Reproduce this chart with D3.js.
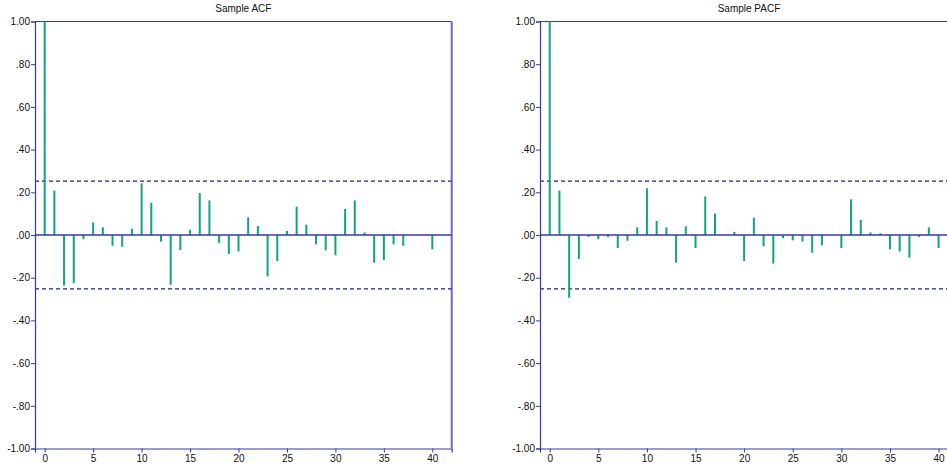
<!DOCTYPE html>
<html>
<head>
<meta charset="utf-8">
<script src="https://cdn.jsdelivr.net/npm/d3@7"></script>
<style>
	body { margin: 0; background: #fff; }
	svg { display: block; font-family: "Liberation Sans", Arial, sans-serif; }
</style>
</head>
<body>
<svg id="chart" width="947" height="467"></svg>
<script>
const lags = d3.range(0, 41)

const acfValues = [1.0, 0.208, -0.237, -0.225, -0.02, 0.059, 0.036, -0.05, -0.055, 0.03,
	0.242, 0.151, -0.031, -0.233, -0.07, 0.025, 0.197, 0.162, -0.037, -0.089,
	-0.077, 0.083, 0.042, -0.194, -0.122, 0.019, 0.133, 0.048, -0.044, -0.072,
	-0.095, 0.122, 0.162, 0.012, -0.13, -0.117, -0.044, -0.05, 0, 0,
	-0.067]

const pacfValues = [1.0, 0.208, -0.294, -0.112, -0.009, -0.02, -0.009, -0.061, -0.027, 0.036,
	0.219, 0.066, 0.036, -0.13, 0.041, -0.061, 0.18, 0.1, 0, 0.014,
	-0.122, 0.081, -0.053, -0.134, -0.014, -0.025, -0.031, -0.083, -0.048, 0,
	-0.061, 0.167, 0.07, 0.012, 0.008, -0.067, -0.077, -0.106, -0.009, 0.036,
	-0.061]

const yTicks = [1, 0.8, 0.6, 0.4, 0.2, 0, -0.2, -0.4, -0.6, -0.8, -1]
const xTicks = [0, 5, 10, 15, 20, 25, 30, 35, 40]
const confBand = 0.252

const panels = [
	{ title: 'Sample ACF', values: acfValues, left: 35, width: 416.7 },
	{ title: 'Sample PACF', values: pacfValues, left: 540, width: 418 }
]

const axisColor = '#3a3a9a'
const barColor = '#12a283'
const plotTop = 21.5, plotBottom = 448.5

const fmtY = v => {
	if (v === 1) return '1.00'
	if (v === -1) return '-1.00'
	const s = d3.format('.2f')(Math.abs(v)).replace(/^0/, '')
	return (v < 0 ? '-' : '') + s
}

const svg = d3.select('#chart')

panels.forEach(p => {
	const x = d3.scaleLinear().domain([-1, 42]).range([p.left, p.left + p.width])
	const y = d3.scaleLinear().domain([-1, 1]).range([plotBottom, plotTop])
	const g = svg.append('g')

	g.append('text')
		.attr('x', p.left + p.width / 2)
		.attr('y', 12)
		.attr('text-anchor', 'middle')
		.attr('font-size', 10)
		.attr('fill', '#111')
		.text(p.title)

	// frame
	g.append('line').attr('x1', x(-1)).attr('x2', x(42)).attr('y1', plotTop).attr('y2', plotTop)
		.attr('stroke', axisColor).attr('stroke-width', 1.2)
	g.append('line').attr('x1', x(42)).attr('x2', x(42)).attr('y1', plotTop).attr('y2', plotBottom)
		.attr('stroke', '#6a6ab8').attr('stroke-width', 2)

	// confidence bands
	;[confBand, -confBand].forEach(c => {
		g.append('line')
			.attr('x1', x(-1)).attr('x2', x(42))
			.attr('y1', y(c)).attr('y2', y(c))
			.attr('stroke', '#22227a')
			.attr('stroke-width', 1.2)
			.attr('stroke-dasharray', '4,3')
	})

	// bars
	g.selectAll('.bar')
		.data(lags)
		.enter()
		.append('line')
		.attr('class', 'bar')
		.attr('x1', d => x(d)).attr('x2', d => x(d))
		.attr('y1', y(0))
		.attr('y2', d => y(p.values[d]))
		.attr('stroke', barColor)
		.attr('stroke-width', 2)

	// zero line
	g.append('line').attr('x1', x(-1)).attr('x2', x(42)).attr('y1', y(0)).attr('y2', y(0))
		.attr('stroke', axisColor).attr('stroke-width', 1.5)

	// y axis
	const yAxis = g.append('g')
		.attr('transform', `translate(${p.left},0)`)
		.call(d3.axisLeft(y).tickValues(yTicks).tickFormat(fmtY).tickSize(4).tickPadding(1))
	yAxis.select('.domain').attr('stroke', axisColor).attr('stroke-width', 1.2)
	yAxis.selectAll('.tick line').attr('stroke', axisColor)
	yAxis.selectAll('text').attr('font-size', 10).attr('fill', '#111').attr('font-family', '"Liberation Sans", Arial, sans-serif')

	// x axis
	const xAxis = g.append('g')
		.attr('transform', `translate(0,${plotBottom})`)
		.call(d3.axisBottom(x).tickValues(xTicks).tickFormat(d3.format('d')).tickSize(4).tickPadding(2))
	xAxis.select('.domain').attr('stroke', axisColor).attr('stroke-width', 1.2)
	xAxis.selectAll('.tick line').attr('stroke', axisColor)
	xAxis.selectAll('text').attr('font-size', 10).attr('fill', '#111').attr('font-family', '"Liberation Sans", Arial, sans-serif')
})
</script>
</body>
</html>
